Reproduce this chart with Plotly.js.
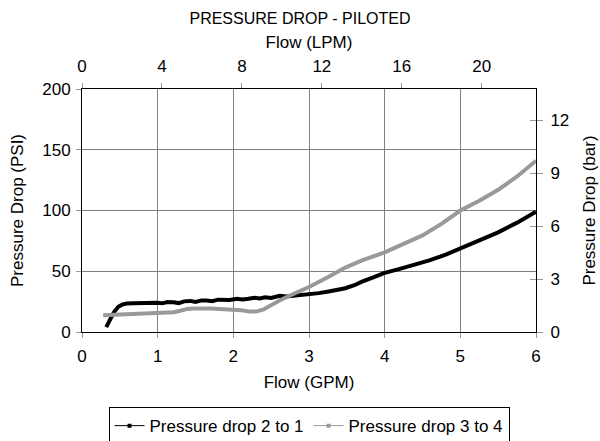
<!DOCTYPE html>
<html><head><meta charset="utf-8">
<script src="https://cdn.plot.ly/plotly-3.0.1.min.js"></script>
<style>body{margin:0}#c{width:600px;height:441px}</style>
</head><body><div id="c"></div>
<script>
// Flow in GPM, pressure drop in PSI
const flow21 = [0.32,0.36,0.39,0.43,0.48,0.53,0.59,0.68,0.76,0.85,0.92,0.99,1.06,1.13,1.21,1.28,1.35,1.43,1.5,1.58,1.65,1.72,1.8,1.87,1.95,2.05,2.12,2.2,2.28,2.35,2.42,2.5,2.61,2.7,2.82,2.9,3.0,3.13,3.26,3.37,3.48,3.6,3.7,3.85,3.99,4.2,4.37,4.59,4.8,5.0,5.2,5.5,5.75,6.0];
const drop21 = [4,8,12.5,17,20.8,22.5,23.4,23.6,23.8,23.3,24.2,24,23.6,24.6,24.5,23.8,25.2,25.6,24.8,26,26,25.4,26.6,26.6,26.4,27.4,26.8,27.3,28.2,27.6,28.5,28,29.8,29.2,29.8,30.2,31,32,33.4,34.6,36,38.5,41.5,45,48.5,52,55,59,63.5,69,74,82,90,99];
const flow34 = [0.28,0.4,0.55,0.75,0.99,1.1,1.21,1.3,1.39,1.48,1.57,1.7,1.87,2.0,2.1,2.21,2.3,2.4,2.5,2.61,2.8,3.0,3.26,3.48,3.7,3.83,4.0,4.25,4.5,4.75,5.0,5.25,5.5,5.75,6.0];
const drop34 = [13.7,14,14.5,15,15.5,15.8,16.2,17.5,19,19.4,19.6,19.3,18.8,18.4,18,16.8,16.8,18.6,22,26,31.5,37,45.5,53,59,62,65.5,72.5,79.5,89,100,108,117,128,141];
const legendNames = ["Pressure drop 2 to 1","Pressure drop 3 to 4"];
const seriesColors = ['#000000','#999999'];
const gpmTicks = [0,1,2,3,4,5,6];
const lpmTicks = [0,4,8,12,16,20];
const psiTicks = [0,50,100,150,200];
const barTicks = [0,3,6,9,12];
const GPM_TO_LPM = 3.78541, PSI_TO_BAR = 0.0689476;

const FF = 'Liberation Sans, Arial, sans-serif';
const font = {family:FF, color:'#000'};
const traces = [
 {x:flow21, y:drop21, name:legendNames[0], mode:'lines', line:{color:seriesColors[0], width:4}, showlegend:false},
 {x:flow34, y:drop34, name:legendNames[1], mode:'lines', line:{color:seriesColors[1], width:4}, showlegend:false},
 {x:[null], y:[null], name:legendNames[0], mode:'lines+markers', line:{color:seriesColors[0], width:1}, marker:{symbol:'square', size:4, color:seriesColors[0]}},
 {x:[null], y:[null], name:legendNames[1], mode:'lines+markers', line:{color:seriesColors[1], width:1}, marker:{symbol:'square', size:4, color:seriesColors[1]}},
 {x:[null], y:[null], xaxis:'x2', yaxis:'y2', showlegend:false, hoverinfo:'skip', mode:'lines'},
 {x:[null], y:[null], xaxis:'x', yaxis:'y3', showlegend:false, hoverinfo:'skip', mode:'lines'}
];
const tf = {family:FF, color:'#000', size:17};
const axBase = {showline:true, linecolor:'#000', linewidth:1, zeroline:false, tickfont:tf, ticks:'outside', ticklen:5, tickcolor:'#999', tickwidth:1};
const layout = {
 width:600, height:441, paper_bgcolor:'#fff', plot_bgcolor:'#fff',
 margin:{l:82, r:64, t:89, b:109, autoexpand:false},
 font:{...font, size:17},
 showlegend:true,
 title:{text:'PRESSURE DROP - PILOTED', font:{...font, size:16}, x:0.5, xanchor:'center', y:0.958, yanchor:'middle', yref:'container'},
 xaxis:{...axBase, range:[0,6], tickvals:gpmTicks, showgrid:true, gridcolor:'#808080', gridwidth:1, ticklabelstandoff:4, title:{text:'Flow (GPM)', font:tf, standoff:10}},
 yaxis:{...axBase, range:[0,200], tickvals:psiTicks, showgrid:true, gridcolor:'#808080', gridwidth:1, ticklabelstandoff:2, title:{text:'Pressure Drop (PSI)', font:tf, standoff:14}},
 xaxis2:{...axBase, overlaying:'x', side:'top', range:[0, 6*GPM_TO_LPM], tickvals:lpmTicks, showgrid:false, ticklabelstandoff:4, title:{text:'Flow (LPM)', font:tf, standoff:4}},
 yaxis2:{...axBase, overlaying:'y', side:'right', range:[0, 200*PSI_TO_BAR], tickvals:barTicks, showgrid:false, ticklen:6, ticklabelstandoff:4, title:{text:'Pressure Drop (bar)', font:tf, standoff:14}},
 yaxis3:{overlaying:'y', side:'right', range:[0, 200*PSI_TO_BAR], tickvals:barTicks, ticks:'inside', ticklen:6, tickcolor:'#999', showticklabels:false, showline:false, showgrid:false, zeroline:false},
 legend:{orientation:'h', x:0.5, xanchor:'center', y:-0.309, yanchor:'top', bordercolor:'#000', borderwidth:1, font:{...font,size:17}, bgcolor:'#fff', itemwidth:30, tracegroupgap:0}
};
Plotly.newPlot('c', traces, layout, {staticPlot:true});
</script></body></html>
